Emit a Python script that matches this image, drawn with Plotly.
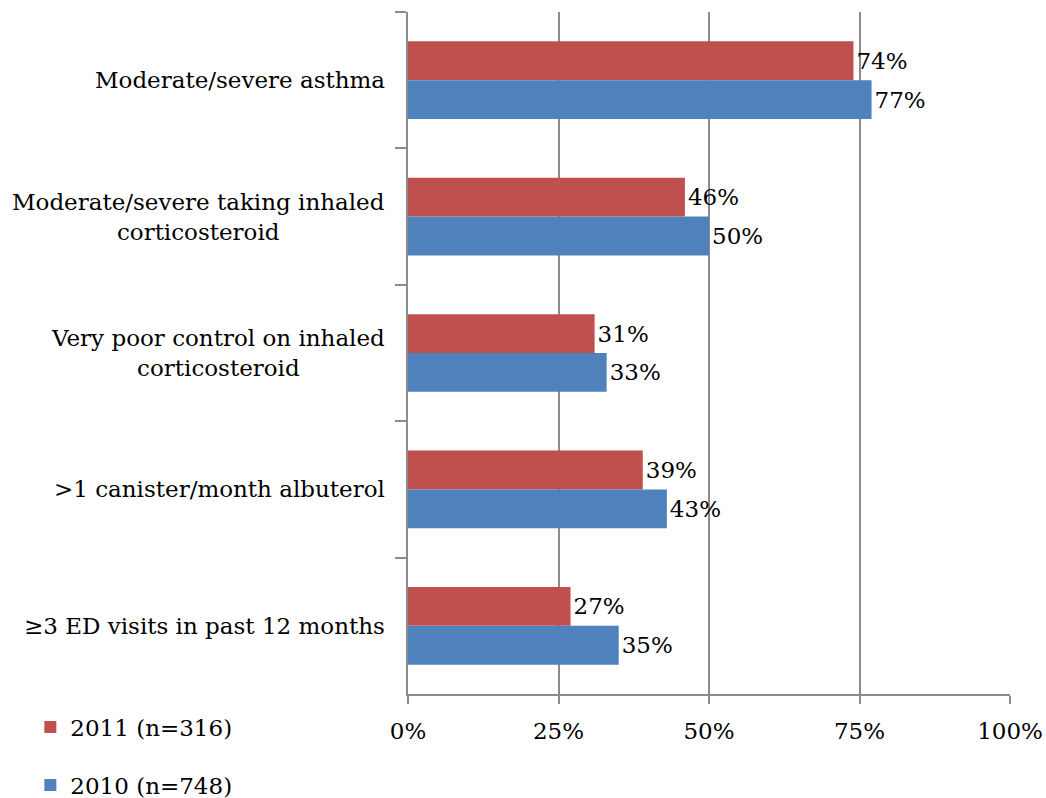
import plotly.graph_objects as go

categories = [
    "Moderate/severe asthma",
    "Moderate/severe taking inhaled<br>corticosteroid",
    "Very poor control on inhaled<br>corticosteroid",
    ">1 canister/month albuterol",
    "≥3 ED visits in past 12 months",
]
values_2011 = [74, 46, 31, 39, 27]
values_2010 = [77, 50, 33, 43, 35]
series_names = ["2011 (n=316)", "2010 (n=748)"]
x_ticks = [0, 25, 50, 75, 100]
x_tick_labels = ["0%", "25%", "50%", "75%", "100%"]

FONT = "DejaVu Serif"
FS = 23
RED = "#C0504D"
BLUE = "#4F81BD"
GRID = "#8C8C8C"

fig = go.Figure()
fig.add_trace(go.Bar(
    y=categories, x=values_2011, orientation="h", name=series_names[0],
    marker=dict(color=RED, line=dict(width=0)),
    text=[f"{v}%" for v in values_2011], textposition="outside",
    textfont=dict(family=FONT, size=FS, color="black"),
    cliponaxis=False, legend="legend", showlegend=True,
))
fig.add_trace(go.Bar(
    y=categories, x=values_2010, orientation="h", name=series_names[1],
    marker=dict(color=BLUE, line=dict(width=0)),
    text=[f"{v}%" for v in values_2010], textposition="outside",
    textfont=dict(family=FONT, size=FS, color="black"),
    cliponaxis=False, legend="legend2", showlegend=True,
))

# category labels, centred line-by-line like the original axis text
for c in categories:
    fig.add_annotation(
        x=0, xref="paper", xanchor="right", xshift=-21,
        y=c, yref="y", yanchor="middle",
        text=c, showarrow=False, align="center",
        font=dict(family=FONT, size=FS, color="black"),
    )

legend_style = dict(
    xref="container", yref="container", xanchor="left", yanchor="middle",
    font=dict(family=FONT, size=FS, color="black"),
    bgcolor="rgba(0,0,0,0)", borderwidth=0, itemwidth=30,
)

fig.update_layout(
    width=1046, height=798,
    margin=dict(l=408, r=36, t=12, b=104, autoexpand=False),
    paper_bgcolor="white", plot_bgcolor="white",
    barmode="group", bargap=0.43, bargroupgap=0,
    showlegend=True,
    legend=dict(x=0.029, y=1 - 727 / 798, **legend_style),
    legend2=dict(x=0.029, y=1 - 785 / 798, **legend_style),
    xaxis=dict(
        range=[0, 100], tickvals=x_ticks, ticktext=x_tick_labels,
        showgrid=True, gridcolor=GRID, gridwidth=1.5,
        showline=True, linecolor=GRID, linewidth=1.5,
        ticks="outside", ticklen=8, tickcolor=GRID, tickwidth=1.5,
        tickfont=dict(family=FONT, size=FS, color="black"),
        ticklabelstandoff=8, zeroline=False, fixedrange=True,
        automargin=False,
    ),
    yaxis=dict(
        autorange="reversed", showticklabels=False,
        showgrid=False, showline=True, linecolor=GRID, linewidth=1.5,
        ticks="outside", tickson="boundaries", ticklen=11,
        tickcolor=GRID, tickwidth=1.5, fixedrange=True,
        automargin=False,
    ),
)

fig.write_html("out.html")
